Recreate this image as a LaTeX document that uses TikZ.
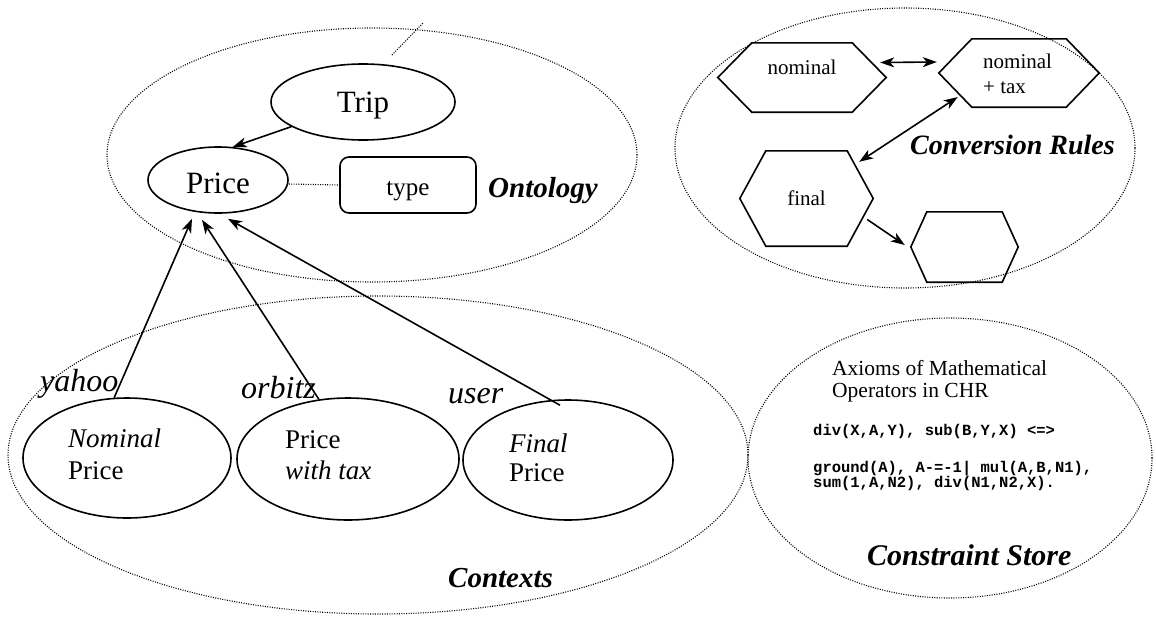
\documentclass[tikz,border=0pt]{standalone}
\usepackage{fontspec}
\setmainfont{Liberation Serif}
\setmonofont{Liberation Mono}
\usetikzlibrary{arrows.meta,shapes.geometric}
\newcommand{\hexdraw}[2]{\draw[line width=1.6pt] ([xshift=#2]#1.north west) -- ([xshift=-#2]#1.north east) -- (#1.east) -- ([xshift=-#2]#1.south east) -- ([xshift=#2]#1.south west) -- (#1.west) -- cycle;}
\newcommand{\fs}[1]{\fontsize{#1}{#1}\selectfont}
\begin{document}
\begin{tikzpicture}[x=1pt,y=-1pt,
  region/.style={line width=1.1pt, dash pattern=on 1pt off 1.4pt},
  solidell/.style={draw, ellipse, line width=1.6pt, inner sep=0pt},
  arr/.style={-{Stealth[length=14pt,width=10pt,inset=4pt]}, line width=1.6pt},
  biarr/.style={{Stealth[length=14pt,width=10pt,inset=4pt]}-{Stealth[length=14pt,width=10pt,inset=4pt]}, line width=1.6pt},
  hexbox/.style={rectangle, inner sep=0pt, font=\fs{21}},
  regionlabel/.style={anchor=base west, inner sep=0pt, font=\bfseries\itshape\fs{29}},
  srclabel/.style={anchor=base west, inner sep=0pt, font=\itshape\fs{32}},
  ctx/.style={anchor=base west, inner sep=0pt, font=\fs{27}},
  code/.style={anchor=base west, inner sep=0pt, font=\ttfamily\bfseries\fs{15.5}},
  axiom/.style={anchor=base west, inner sep=0pt, font=\fs{21.5}}
]
\useasboundingbox (0,0) rectangle (1156,616);

% regions
\draw[region] (372,155) ellipse [x radius=265pt, y radius=127pt];
\draw[region] (905,148) ellipse [x radius=230pt, y radius=140pt];
\draw[region] (378,455) ellipse [x radius=370pt, y radius=159pt];
\draw[region] (950,458) ellipse [x radius=202pt, y radius=140pt];

% ontology
\node[solidell, minimum width=184pt, minimum height=76pt, font=\fs{31}, text height=20pt, text depth=0pt] (trip) at (363,102) {Trip};
\node[solidell, minimum width=140pt, minimum height=66pt, font=\fs{31}, text height=26pt, text depth=0pt] (price) at (218,180) {Price};
\node[draw, rectangle, rounded corners=9pt, line width=1.6pt, inner sep=0pt, minimum width=136pt, minimum height=56pt, font=\fs{25}, text height=20pt, text depth=0pt] (type) at (408,185) {type};
\node[regionlabel] (ontl) at (488,197) {Ontology};
\draw[arr] (trip.199) -- (price.66);
\draw[region] ([yshift=-4pt]price.east) -- (type.west);
\coordinate (dl1) at (392,55);
\coordinate (dl2) at (423,23);
\draw[region] (dl1) -- (dl2);

% conversion rules
\node[hexbox, minimum width=168pt, minimum height=69pt, text height=0pt, text depth=7pt] (nom) at (802,77.5) {nominal};
\hexdraw{nom}{34pt}
\node[hexbox, minimum width=160pt, minimum height=68pt] (ntx) at (1019,73) {};
\hexdraw{ntx}{33pt}
\node[anchor=base west, inner sep=0pt, font=\fs{21}] (ntxa) at (983,68) {nominal};
\node[anchor=base west, inner sep=0pt, font=\fs{21}] (ntxb) at (983,93) {+ tax};
\node[hexbox, minimum width=133pt, minimum height=95pt, text height=13pt, text depth=0pt] (fnl) at (806.5,198.5) {final};
\hexdraw{fnl}{26pt}
\node[hexbox, minimum width=107pt, minimum height=70pt] (emp) at (964.5,247) {};
\hexdraw{emp}{16pt}
\node[regionlabel, font=\bfseries\itshape\fs{28}] (convl) at (910,154) {Conversion Rules};
\draw[biarr] ([xshift=-6pt,yshift=15pt]nom.east) -- ([xshift=-2pt,yshift=11pt]ntx.west);
\draw[biarr] ([xshift=19pt,yshift=-24pt]ntx.west) -- ([xshift=-14pt,yshift=-11pt]fnl.north east);
\draw[arr] ([xshift=-6pt,yshift=-21pt]fnl.east) -- ([xshift=-6pt,yshift=2pt]emp.west);

% contexts
\node[solidell, minimum width=208pt, minimum height=120pt] (nomp) at (127,458) {};
\node[solidell, minimum width=222pt, minimum height=122pt] (pwt) at (348,459) {};
\node[solidell, minimum width=210pt, minimum height=120pt] (fin) at (568,460) {};
\node[ctx, font=\itshape\fs{27}] (nomA) at (68,447) {Nominal};
\node[ctx] (nomB) at (68,479) {Price};
\node[ctx] (pwtA) at (285,448) {Price};
\node[ctx, font=\itshape\fs{27}] (pwtB) at (285,479) {with tax};
\node[ctx, font=\itshape\fs{27}] (finA) at (509,452) {Final};
\node[ctx] (finB) at (509,481) {Price};
\node[srclabel] (yahoo) at (40,391) {yahoo};
\node[srclabel] (orbitz) at (241,398) {orbitz};
\node[srclabel] (user) at (448,403) {user};
\node[regionlabel] (ctxl) at (448,587) {Contexts};
\draw[arr] (nomp.102) -- ([xshift=-26pt,yshift=-5pt]price.south);
\draw[arr] (pwt.116) -- ([xshift=-16pt,yshift=-6pt]price.south);
\draw[arr] ([xshift=-8pt,yshift=-6pt]fin.north) -- ([xshift=10pt,yshift=-5pt]price.south);

% constraint store
\node[axiom] (ax1) at (832,375) {Axioms of Mathematical};
\node[axiom] (ax2) at (832,397) {Operators in CHR};
\node[code] (c1) at (813,435) {div(X,A,Y), sub(B,Y,X) <=>};
\node[code] (c2) at (813,472) {ground(A), A-=-1| mul(A,B,N1),};
\node[code] (c3) at (813,487) {sum(1,A,N2), div(N1,N2,X).};
\node[regionlabel, font=\bfseries\itshape\fs{30}] (csl) at (867,565) {Constraint Store};
\end{tikzpicture}
\end{document}
